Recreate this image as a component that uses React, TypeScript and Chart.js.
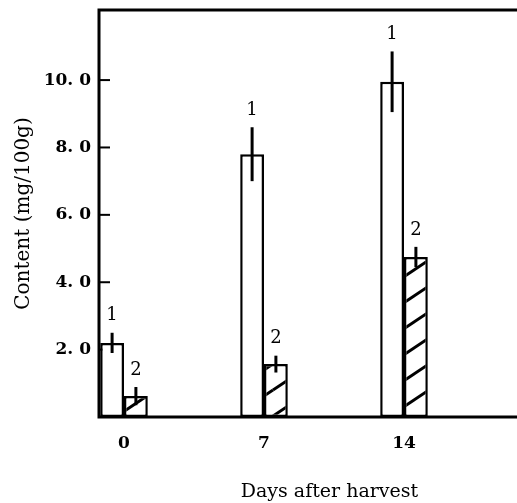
import React, { useEffect, useRef } from "react";
import { Chart, registerables } from "chart.js";

Chart.register(...registerables);

const days = [0, 7, 14];
const xTickLabels = ["0", "7", "14"];
const seriesNames = ["1", "2"];
const series1 = [2.2, 7.8, 9.95];
const series1Err = [0.3, 0.8, 0.9];
const series2 = [0.62, 1.57, 4.75];
const series2Err = [0.27, 0.25, 0.3];
const yTicks = [2, 4, 6, 8, 10];
const yTickLabels = ["2. 0", "4. 0", "6. 0", "8. 0", "10. 0"];

const SERIF = "'DejaVu Serif', 'Liberation Serif', serif";

function makeHatch(): CanvasPattern | string {
  const W = 39;
  const H = 26;
  const c = document.createElement("canvas");
  c.width = W;
  c.height = H;
  const g = c.getContext("2d");
  if (!g) return "#fff";
  g.fillStyle = "#fff";
  g.fillRect(0, 0, W, H);
  g.strokeStyle = "#000";
  g.lineWidth = 3;
  const shifts = [
    [0, 0],
    [-W, 0],
    [W, 0],
    [0, H],
    [0, -H],
  ];
  for (const [dx, dy] of shifts) {
    g.beginPath();
    g.moveTo(0 + dx, H + dy);
    g.lineTo(W + dx, 0 + dy);
    g.stroke();
  }
  const p = g.createPattern(c, "repeat");
  return p || "#fff";
}

const decorPlugin = {
  id: "decor",
  beforeDatasetsDraw(chart: any) {
    const { ctx, chartArea } = chart;
    const ys = chart.scales.y;
    ctx.save();
    ctx.strokeStyle = "#000";
    ctx.lineWidth = 2;
    for (const v of yTicks) {
      const py = ys.getPixelForValue(v);
      ctx.beginPath();
      ctx.moveTo(chartArea.left, py);
      ctx.lineTo(chartArea.left + 11, py);
      ctx.stroke();
    }
    ctx.restore();
  },
  afterDatasetsDraw(chart: any) {
    const { ctx, chartArea } = chart;
    const ys = chart.scales.y;
    const errs = [series1Err, series2Err];
    ctx.save();
    ctx.strokeStyle = "#000";
    ctx.fillStyle = "#000";
    ctx.font = `18px ${SERIF}`;
    ctx.textAlign = "center";
    ctx.textBaseline = "bottom";
    chart.data.datasets.forEach((ds: any, di: number) => {
      const meta = chart.getDatasetMeta(di);
      meta.data.forEach((bar: any, i: number) => {
        const v = ds.data[i].y;
        const e = errs[di][i];
        const top = ys.getPixelForValue(v + e);
        const bot = ys.getPixelForValue(v - e);
        ctx.lineWidth = 3;
        ctx.beginPath();
        ctx.moveTo(bar.x, top);
        ctx.lineTo(bar.x, bot);
        ctx.stroke();
        ctx.fillText(seriesNames[di], bar.x, top - 8);
      });
    });
    // frame
    ctx.lineWidth = 3;
    ctx.beginPath();
    ctx.moveTo(chartArea.right, chartArea.top);
    ctx.lineTo(chartArea.left, chartArea.top);
    ctx.lineTo(chartArea.left, chartArea.bottom);
    ctx.lineTo(chartArea.right, chartArea.bottom);
    ctx.stroke();
    ctx.restore();
  },
};

export default function App() {
  const ref = useRef<HTMLCanvasElement>(null);
  useEffect(() => {
    if (!ref.current) return;
    const hatch = makeHatch();
    const chart = new Chart(ref.current, {
      type: "bar",
      data: {
        datasets: [
          {
            label: seriesNames[0],
            data: days.map((d, i) => ({ x: d, y: series1[i] })),
            backgroundColor: "#fff",
            borderColor: "#000",
            borderWidth: 2.5,
            borderSkipped: false,
            categoryPercentage: 0.34,
            barPercentage: 1,
          },
          {
            label: seriesNames[1],
            data: days.map((d, i) => ({ x: d, y: series2[i] })),
            backgroundColor: hatch as any,
            borderColor: "#000",
            borderWidth: 2.5,
            borderSkipped: false,
            categoryPercentage: 0.34,
            barPercentage: 1,
          },
        ],
      },
      options: {
        responsive: false,
        animation: false,
        layout: { padding: { top: 10, left: 0, right: 0, bottom: 0 } },
        plugins: { legend: { display: false }, tooltip: { enabled: false } },
        scales: {
          x: {
            type: "linear",
            offset: false,
            min: -1.25,
            max: 21.8,
            border: { display: false },
            grid: { display: false, drawTicks: false, offset: false },
            afterBuildTicks: (s: any) => {
              s.ticks = days.map((d) => ({ value: d }));
            },
            afterFit: (s: any) => {
              s.height = 86;
              s.paddingLeft = 0;
              s.paddingRight = 0;
            },
            ticks: {
              padding: 16,
              color: "#000",
              font: { family: SERIF, size: 17, weight: "bold" },
              callback: (v: any) => {
                const i = days.indexOf(Number(v));
                return i >= 0 ? xTickLabels[i] : "";
              },
            },
            title: {
              display: true,
              text: "Days after harvest",
              color: "#000",
              font: { family: SERIF, size: 19 },
              padding: { top: 0, bottom: 0 },
            },
          },
          y: {
            min: 0,
            max: 12.08,
            border: { display: false },
            grid: { display: false, drawTicks: false },
            afterBuildTicks: (s: any) => {
              s.ticks = yTicks.map((v) => ({ value: v }));
            },
            afterFit: (s: any) => {
              s.width = 99;
              s.paddingTop = 0;
              s.paddingBottom = 0;
            },
            ticks: {
              padding: 8,
              color: "#000",
              font: { family: SERIF, size: 17, weight: "bold" },
              callback: (v: any) => {
                const i = yTicks.indexOf(Number(v));
                return i >= 0 ? yTickLabels[i] : "";
              },
            },
            title: {
              display: true,
              text: "Content (mg/100g)",
              color: "#000",
              font: { family: SERIF, size: 20 },
              padding: { top: 12, bottom: 0 },
            },
          },
        },
      },
      plugins: [decorPlugin],
    });
    return () => chart.destroy();
  }, []);
  return (
    <div
      style={{
        position: "fixed",
        left: 0,
        top: 0,
        width: 517,
        height: 503,
        overflow: "hidden",
        background: "#fff",
      }}
    >
      <canvas ref={ref} width={560} height={503} style={{ width: 560, height: 503, display: "block" }} />
    </div>
  );
}
